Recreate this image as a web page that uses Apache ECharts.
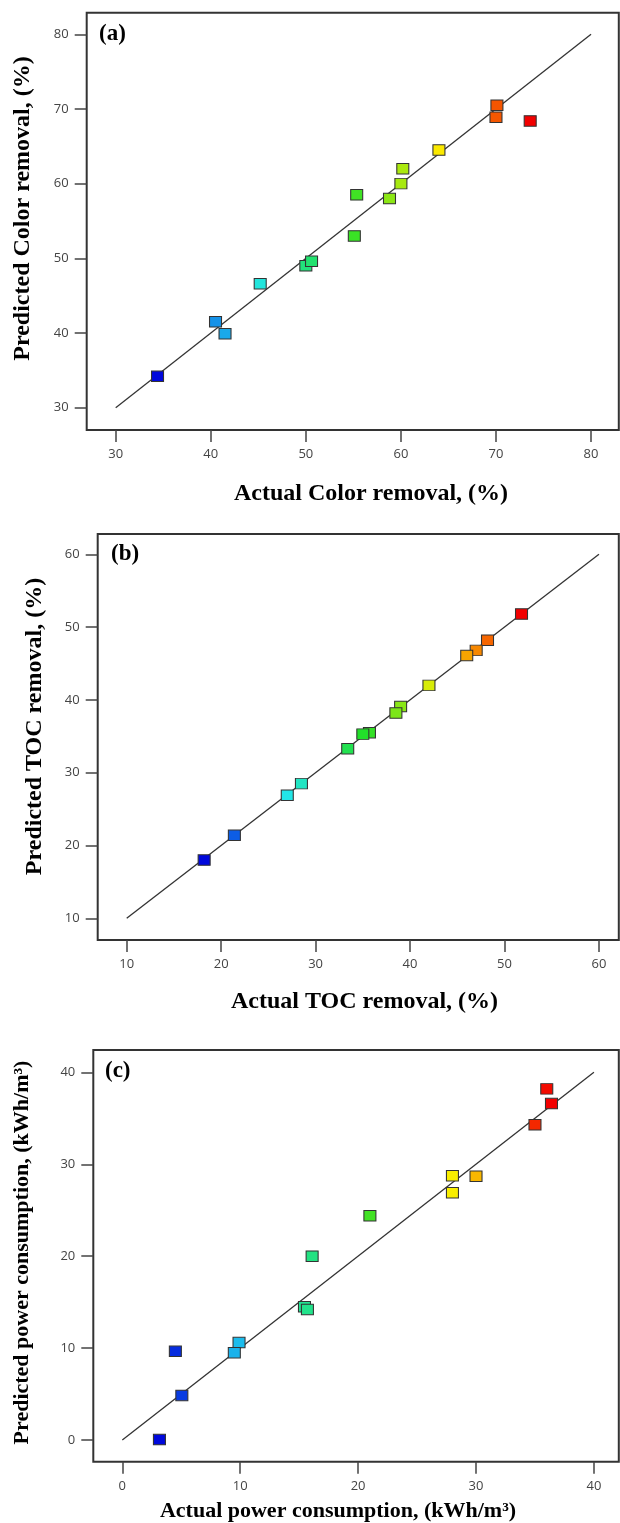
<!DOCTYPE html>
<html>
<head>
<meta charset="utf-8">
<script src="https://cdn.jsdelivr.net/npm/echarts@6/dist/echarts.min.js"></script>
<style>
html, body { margin: 0; padding: 0; background: #fff; }
#chart { width: 620px; height: 1523px; }
</style>
</head>
<body>
<div id="chart"></div>
<script>
// (a) colour removal, %
const colorActual    = [70.1, 70.0, 73.6, 64.0, 60.2, 60.0, 55.35, 58.8, 55.1, 50.0, 50.6, 45.2, 40.5, 41.5, 34.4];
const colorPredicted = [70.5, 68.9, 68.4, 64.5, 62.0, 60.0, 58.5, 58.0, 53.0, 49.0, 49.6, 46.6, 41.5, 39.9, 34.2];
const colorTicks = [30, 40, 50, 60, 70, 80];

// (b) TOC removal, %
const tocActual    = [51.8, 48.2, 47.0, 46.0, 42.0, 39.0, 38.5, 35.7, 35.0, 33.4, 28.5, 27.0, 21.4, 18.2];
const tocPredicted = [51.8, 48.2, 46.8, 46.1, 42.0, 39.1, 38.2, 35.5, 35.3, 33.3, 28.5, 26.9, 21.4, 18.0];
const tocTicks = [10, 20, 30, 40, 50, 60];

// (c) power consumption, kWh/m3
const powerActual    = [36.0, 36.4, 35.0, 28.0, 30.0, 28.0, 21.0, 16.1, 15.45, 15.7, 9.9, 9.5, 4.5, 5.05, 3.15];
const powerPredicted = [38.2, 36.6, 34.3, 28.75, 28.7, 26.9, 24.4, 20.0, 14.5, 14.2, 10.6, 9.5, 9.65, 4.85, 0.05];
const powerTicks = [0, 10, 20, 30, 40];

const rainbow = ['#0008dc', '#22e6f0', '#22e02a', '#fbee00', '#f20000'];
const tickFont = { fontFamily: 'Open Sans', fontSize: 13, color: '#444' };
const titleFont = 'Liberation Serif';

const panels = [
  { grid: { left: 86.7, top: 12.7, width: 532.1, height: 417.3 },
    xr: [26.95, 82.92], yr: [27.01, 82.89], ticks: colorTicks,
    actual: colorActual, predicted: colorPredicted },
  { grid: { left: 97.7, top: 534, width: 521.1, height: 406 },
    xr: [6.93, 62.1], yr: [7.02, 62.79], ticks: tocTicks,
    actual: tocActual, predicted: tocPredicted },
  { grid: { left: 93.3, top: 1050, width: 525.5, height: 411.7 },
    xr: [-2.46, 42.11], yr: [-2.36, 42.43], ticks: powerTicks,
    actual: powerActual, predicted: powerPredicted }
];

const grids = [], xAxes = [], yAxes = [], series = [], visualMaps = [];

panels.forEach((p, i) => {
  grids.push(Object.assign({ show: true, borderColor: '#333', borderWidth: 2, backgroundColor: 'transparent' }, p.grid));
  const axisBase = (range) => ({
    type: 'value', gridIndex: i, min: range[0], max: range[1],
    axisLine: { show: false, onZero: false },
    axisTick: { show: true, length: 12, inside: false, customValues: p.ticks, lineStyle: { color: '#444', width: 1.5 } },
    axisLabel: Object.assign({ customValues: p.ticks, margin: 18 }, tickFont),
    splitLine: { show: false }
  });
  xAxes.push(axisBase(p.xr));
  yAxes.push(axisBase(p.yr));

  const lo = p.ticks[0], hi = p.ticks[p.ticks.length - 1];
  series.push({
    type: 'line', xAxisIndex: i, yAxisIndex: i, data: [[lo, lo], [hi, hi]],
    symbol: 'none', silent: true, z: 1,
    lineStyle: { color: '#333', width: 1.3 }
  });
  series.push({
    type: 'scatter', xAxisIndex: i, yAxisIndex: i, z: 2,
    data: p.actual.map((v, k) => [v, p.predicted[k]]),
    symbol: 'rect', symbolSize: [12, 10.5],
    itemStyle: { borderColor: '#333', borderWidth: 1, opacity: 1 }
  });
  visualMaps.push({
    show: false, type: 'continuous', seriesIndex: series.length - 1, dimension: 0,
    min: Math.min(...p.actual), max: Math.max(...p.actual),
    inRange: { color: rainbow }
  });
});

const txt = (text, x, y, size, rotate) => ({
  type: 'text', x: x, y: y, rotation: rotate ? Math.PI / 2 : 0,
  style: { text: text, fontFamily: titleFont, fontWeight: 'bold', fontSize: size, fill: '#000',
           align: 'center', verticalAlign: 'middle' }
});
const lbl = (text, x, y) => ({
  type: 'text', x: x, y: y,
  style: { text: text, fontFamily: titleFont, fontWeight: 'bold', fontSize: 23, fill: '#000',
           align: 'left', verticalAlign: 'middle' }
});

const graphic = [
  txt('Actual Color removal, (%)', 371, 494, 24),
  txt('Predicted Color removal, (%)', 23, 208.5, 24, true),
  txt('Actual TOC removal, (%)', 364.5, 1002, 24),
  txt('Predicted TOC removal, (%)', 35, 726.5, 24, true),
  txt('Actual power consumption, (kWh/m³)', 338, 1511, 22),
  txt('Predicted power consumption, (kWh/m³)', 22.5, 1252.5, 22, true),
  lbl('(a)', 99, 34),
  lbl('(b)', 111, 554),
  lbl('(c)', 105, 1071)
];

const chart = echarts.init(document.getElementById('chart'), null, { renderer: 'canvas' });
chart.setOption({
  animation: false,
  backgroundColor: '#fff',
  grid: grids,
  xAxis: xAxes,
  yAxis: yAxes,
  visualMap: visualMaps,
  series: series,
  graphic: graphic
});
</script>
</body>
</html>
